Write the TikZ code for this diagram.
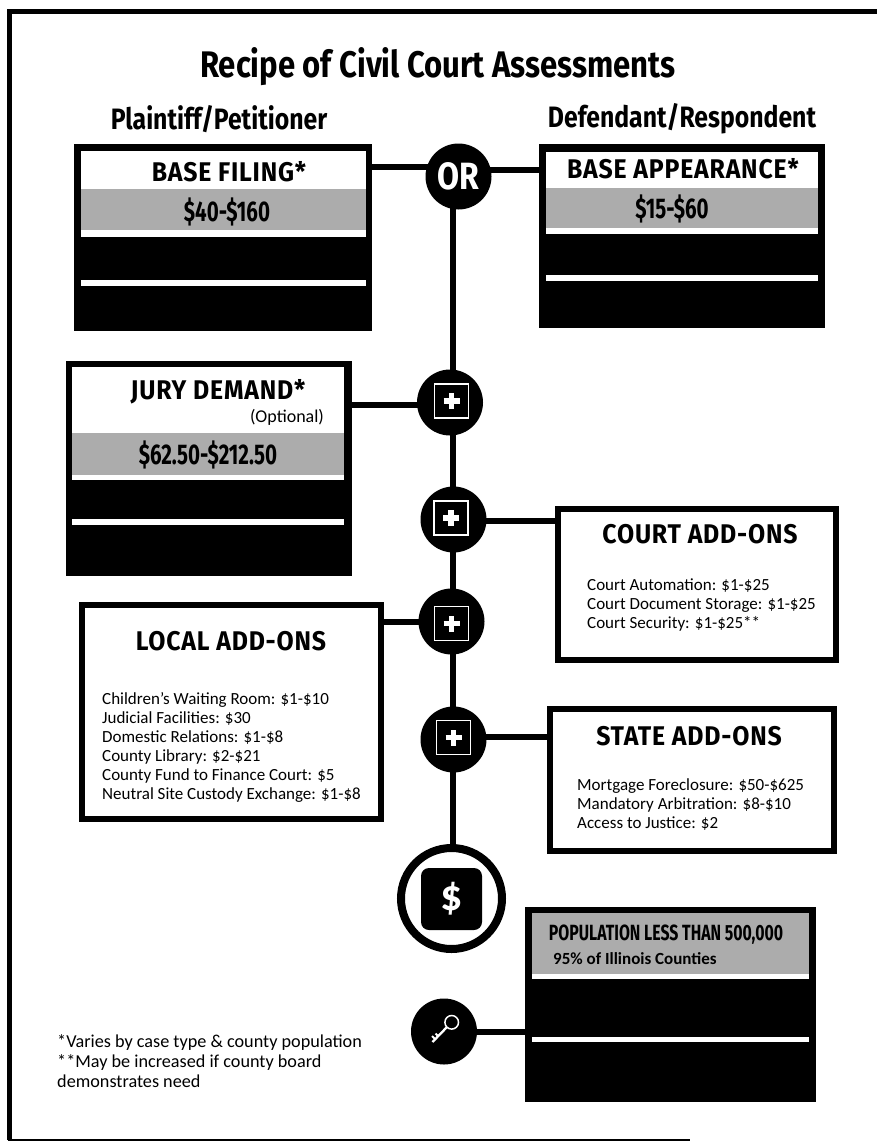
\documentclass[tikz,border=0pt]{standalone}
\usepackage{fontspec}
\setmainfont{Carlito}
\newfontfamily\headfont[FakeStretch=0.92,LetterSpace=3]{Fira Sans Bold}
\newfontfamily\titlefont[FakeStretch=0.84]{Fira Sans Bold}
\newfontfamily\pricefont[FakeStretch=0.72]{Fira Sans Bold}
\usetikzlibrary{backgrounds}

\tikzset{
  link/.style={line width=6.5pt},
  blackbox/.style={fill=black, inner sep=0pt},
  addbox/.style={draw=black, fill=white, line width=6.5pt, inner sep=0pt},
  badge/.style={circle, fill=black, minimum size=66pt, inner sep=0pt},
  plusbox/.style={draw=white, fill=black, line width=1.6pt, minimum size=34pt, inner sep=0pt},
  heading/.style={font=\headfont\fontsize{27}{30}\selectfont},
  price/.style={font=\pricefont\fontsize{28.5}{30}\selectfont},
  listing/.style={anchor=north west, align=left, inner sep=0pt,
    font=\fontsize{17}{19}\selectfont}
}

\begin{document}
\begin{tikzpicture}[x=1pt, y=-1pt]
  \useasboundingbox (0, 0) rectangle (877, 1141);

  % titres
  \node[font=\titlefont\fontsize{37}{40}\selectfont] (title) at (438, 67) {Recipe of Civil Court Assessments};
  \node[font=\titlefont\fontsize{29.5}{32}\selectfont] (plaintiff) at (219, 119) {Plaintiff/Petitioner};
  \node[font=\titlefont\fontsize{29.5}{32}\selectfont] (defendant) at (682, 119) {Defendant/Respondent};

  % boites noires
  \node[blackbox, minimum width=298pt, minimum height=187pt] (filing) at (223, 237.5) {};
  \node[blackbox, minimum width=286pt, minimum height=184pt] (appearance) at (682, 236) {};
  \node[blackbox, minimum width=286pt, minimum height=215pt] (jury) at (209, 468.5) {};
  \node[blackbox, minimum width=291pt, minimum height=195pt] (population) at (670.5, 1004.5) {};

  % bandes: gauche, droite, haut, gris, fin gris, fin blanc, filet
  \foreach \l/\r/\t/\g/\e/\w/\a/\b in {81/366/151/189/230/237/280/286,
      546/818/152/188/228/234/275/281,
      72/344/367/433/475/480/519/525,
      532/809/913/913/974/979/1037/1042} {
    \fill[white] (\l, \t) rectangle (\r, \w);
    \fill[gray!65] (\l, \g) rectangle (\r, \e);
    \fill[white] (\l, \a) rectangle (\r, \b);
  }

  \node[heading] (filinghead) at (229, 172) {BASE FILING*};
  \node[price] (filingprice) at (227, 212) {\$40-\$160};
  \node[heading] (appearancehead) at (683, 169) {BASE APPEARANCE*};
  \node[price] (appearanceprice) at (672, 209) {\$15-\$60};
  \node[heading] (juryhead) at (218, 392) {JURY DEMAND*};
  \node[font=\fontsize{18}{20}\selectfont] (optional) at (287, 417) {(Optional)};
  \node[price] (juryprice) at (208, 455) {\$62.50-\$212.50};
  \node[font=\pricefont\fontsize{22}{25}\selectfont] (pophead) at (666, 935) {POPULATION LESS THAN 500,000};
  \node[font=\bfseries\fontsize{17}{19}\selectfont, anchor=west, inner sep=0pt] (popshare) at (553, 959) {95\% of Illinois Counties};

  % boites blanches
  \node[addbox, minimum width=278pt, minimum height=151pt] (court) at (697, 584.5) {};
  \node[addbox, minimum width=284pt, minimum height=142pt] (state) at (692, 780) {};
  \node[addbox, minimum width=299pt, minimum height=214pt] (local) at (231.5, 712) {};

  \node[heading] (courthead) at (700, 534) {COURT ADD-ONS};
  \node[heading] (statehead) at (689, 736) {STATE ADD-ONS};
  \node[heading] (localhead) at (231, 641) {LOCAL ADD-ONS};

  \node[listing] (courtlist) at (587, 579) {Court Automation: \$1-\$25\\Court Document Storage: \$1-\$25\\Court Security: \$1-\$25**};
  \node[listing] (statelist) at (577, 778) {Mortgage Foreclosure: \$50-\$625\\Mandatory Arbitration: \$8-\$10\\Access to Justice: \$2};
  \node[listing] (locallist) at (102, 692) {Children's Waiting Room: \$1-\$10\\Judicial Facilities: \$30\\Domestic Relations: \$1-\$8\\County Library: \$2-\$21\\County Fund to Finance Court: \$5\\Neutral Site Custody Exchange: \$1-\$8};

  % ronds
  \node[badge, font=\titlefont\fontsize{38}{40}\selectfont, text=white] (or) at (458.5, 176.5) {OR};
  \foreach \name/\x/\y/\sx/\sy in {plusjury/450/402.5/451.5/401,
      pluscourt/453.5/519.5/451/518,
      pluslocal/451.5/621.5/451.5/623.5,
      plusstate/453.5/739.5/453.5/737.5} {
    \node[badge] (\name) at (\x, \y) {};
    \node[plusbox] (\name box) at (\sx, \sy) {};
    \draw[white, line width=5.5pt] ([xshift=-8pt]\name box.center) -- ([xshift=8pt]\name box.center);
    \draw[white, line width=5.5pt] ([yshift=-8pt]\name box.center) -- ([yshift=8pt]\name box.center);
  }

  % total
  \node[circle, draw=black, fill=white, line width=8pt, minimum size=101pt, inner sep=0pt] (total) at (451.5, 898.5) {};
  \node[fill=black, rounded corners=8pt, minimum width=61pt, minimum height=62pt, inner sep=0pt,
    text=white, font=\bfseries\fontsize{44}{46}\selectfont] (dollar) at (451.5, 899) {\$};

  % clef
  \node[badge] (key) at (444, 1031.5) {};
  \begin{scope}[shift={(key)}, white]
    \draw[line width=1.5pt] (7.7, -9.2) circle [radius=6.8pt];
    \draw[line width=2.3pt] (3, -4.5) -- (-11.5, 10.5);
    \draw[line width=1.8pt] (-9, 7.5) -- (-12, 4.5);
    \draw[line width=1.8pt] (-6, 4.5) -- (-8.5, 2);
  \end{scope}

  % notes
  \node[anchor=north west, align=left, inner sep=0pt, font=\fontsize{18.2}{20}\selectfont] (notes) at (57, 1034)
    {*Varies by case type \& county population\\**May be increased if county board\\demonstrates need};

  % liens
  \coordinate (spine) at (453, 176);
  \begin{scope}[on background layer]
    \draw[line width=5pt] (9.5, 1140) -- (9.5, 11.5) -- (877, 11.5);
    \draw[line width=2.5pt] (8, 1140) -- (690, 1140);
    \draw[link] (spine) -- (spine |- total);
    \foreach \a/\b/\y in {filing/or/167, appearance/or/170, jury/plusjury/405, court/pluscourt/521,
        local/pluslocal/622, state/plusstate/737, population/key/1032}
      \draw[link] (\a |- 0, \y) -- (\b |- 0, \y);
  \end{scope}
\end{tikzpicture}
\end{document}
